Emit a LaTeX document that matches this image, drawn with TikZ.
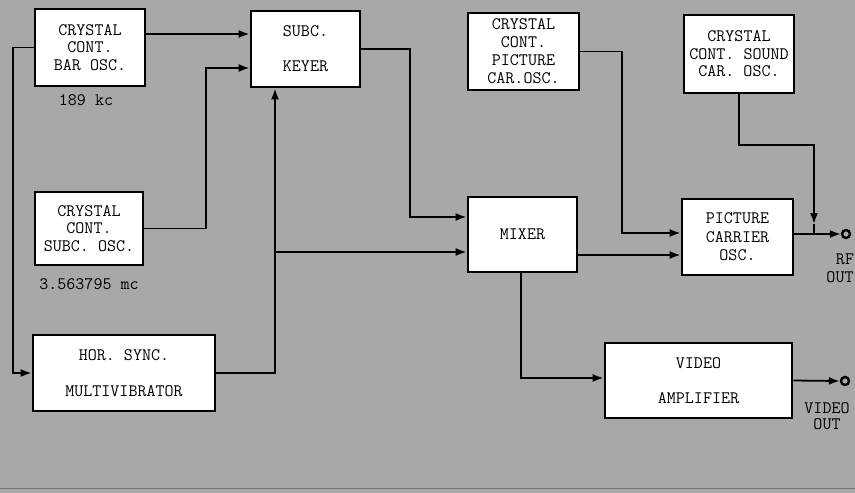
\documentclass[tikz,border=0pt]{standalone}
\usetikzlibrary{arrows.meta,calc}
\definecolor{bg}{RGB}{168,168,168}
\begin{document}
\begin{tikzpicture}[x=1pt,y=-1pt,
  blk/.style={draw, line width=2.8pt, fill=white, inner sep=0pt, align=center,
              font=\ttfamily\fontsize{17.5}{17.5}\selectfont},
  arr/.style={line width=1.8pt, -{Latex[length=11pt,width=8pt]}},
  wire/.style={line width=1.8pt},
  term/.style={circle, draw, line width=2.4pt, minimum size=8pt, inner sep=0pt, fill=bg},
  lbl/.style={font=\ttfamily\fontsize{17.5}{15.5}\selectfont, align=center, inner sep=0pt}]
\fill[bg] (0,0) rectangle (855,493);
\useasboundingbox (0,0) rectangle (855,493);
\draw[black!55, line width=0.8pt] (0,488) -- (855,488);

% blocks
\node[blk, minimum width=110pt, minimum height=77pt] (bar) at (90,47.5) {CRYSTAL\\CONT.\\BAR OSC.};
\node[blk, minimum width=109pt, minimum height=76pt] (keyer) at (305.5,49) {SUBC.\\[17.5pt]KEYER};
\node[blk, minimum width=108pt, minimum height=73pt] (subcosc) at (89,228.5) {CRYSTAL\\CONT.\\SUBC. OSC.};
\node[blk, minimum width=182pt, minimum height=76pt] (hor) at (124,373) {HOR. SYNC.\\[18pt]MULTIVIBRATOR};
\node[blk, minimum width=109pt, minimum height=75pt] (mixer) at (522.5,234.5) {MIXER};
\node[blk, minimum width=111pt, minimum height=77pt, font=\ttfamily\fontsize{17.5}{18}\selectfont] (pcosc) at (523.5,51.5) {CRYSTAL\\CONT.\\PICTURE\\CAR.OSC.};
\node[blk, minimum width=110pt, minimum height=78pt] (sound) at (739,54) {CRYSTAL\\CONT. SOUND\\CAR. OSC.};
\node[blk, minimum width=111pt, minimum height=76pt, font=\ttfamily\fontsize{17.5}{18.5}\selectfont] (pcar) at (737.5,237) {PICTURE\\CARRIER\\OSC.};
\node[blk, minimum width=187pt, minimum height=75pt] (vamp) at (698.5,380.5) {VIDEO\\[17.5pt]AMPLIFIER};

% labels
\node[lbl] (l189) at (86,100) {189 kc};
\node[lbl] (l356) at (89,284) {3.563795 mc};

% terminals
\node[term] (rf) at (846,234) {};
\node[term] (vo) at (845,381) {};
\node[lbl] (rflbl) at (845,259) {RF};
\node[lbl] (rflbl2) at (840,277) {OUT};
\node[lbl] (volbl) at (827,408) {VIDEO};
\node[lbl] (volbl2) at (827,424) {OUT};

% connectors
\draw[arr] ([yshift=13.5pt]bar.east) -- ([yshift=13.5pt]bar.east -| keyer.west);
\draw[arr] (bar.west) -- ++(-21,0) |- (hor.west);
\draw[arr] (subcosc.east) -| ($(keyer.west)+(-44,19)$) -- ($(keyer.west)+(0,19)$);
\draw[arr] (hor.east) -| ([xshift=-30.5pt]keyer.south);
\coordinate (j1) at ([xshift=-30.5pt]keyer.south |- 0,252);
\draw[arr] (j1) -- (j1 -| mixer.west);
\draw[arr] (keyer.east) -| ([xshift=-57pt,yshift=17.5pt]mixer.west) -- ([yshift=17.5pt]mixer.west);
\draw[arr] ([yshift=-20.5pt]mixer.east) -- ([yshift=-20.5pt]mixer.east -| pcar.west);
\draw[arr] (pcosc.east) -| ([xshift=-59pt,yshift=4pt]pcar.west) -- ([yshift=4pt]pcar.west);
\draw[arr] ([yshift=3pt]pcar.east) -- (rf.west);
\coordinate (rfj) at (814,234);
\draw[arr] (sound.south) |- (rfj |- 0,145) -- ([yshift=10pt]rfj);
\draw[wire] ([yshift=10pt]rfj) -- (rfj);
\draw[arr] ([xshift=-1.5pt]mixer.south) |- ([yshift=2.5pt]vamp.west);
\draw[arr] (vamp.east) -- (vo.west);
\end{tikzpicture}
\end{document}
